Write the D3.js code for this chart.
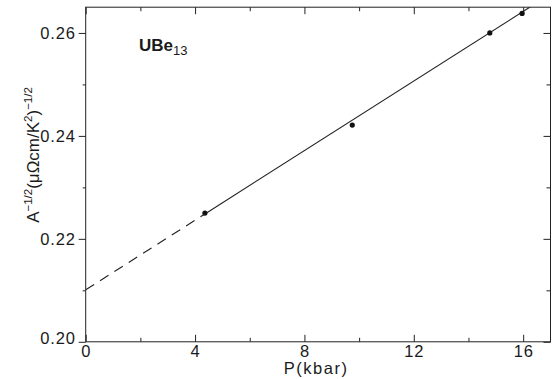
<!DOCTYPE html>
<html><head><meta charset="utf-8">
<script src="https://cdn.jsdelivr.net/npm/d3@7"></script>
<style>
body{margin:0;background:#fff;}
text{font-family:"Liberation Sans",Arial,Helvetica,sans-serif;fill:#1a1a1a;}
</style></head>
<body><svg id="c" width="554" height="379"></svg>
<script>
// data
const pressure = [4.36, 9.75, 14.78, 15.96];          // kbar
const invSqrtA = [0.2250, 0.2421, 0.2600, 0.2638];    // A^-1/2
const fitIntercept = [0.2101];
const fitSlope = [0.00338];
const dashedRange = [0, 4.36];
const solidRange = [4.36, 16.3];
const xTicks = [0, 4, 8, 12, 16];
const xMinor = [2, 6, 10, 14];
const yTicks = [0.20, 0.22, 0.24, 0.26];
const yMinor = [0.21, 0.23, 0.25];

const svg = d3.select("#c");
const L = 85.7, R = 550.5, T = 7.2, B = 341.8;
const x = d3.scaleLinear().domain([0, 17]).range([L, R]);
const y = d3.scaleLinear().domain([0.20, 0.265]).range([B, T]);
const ink = "#222";

// frame
svg.append("rect").attr("x", L).attr("y", T).attr("width", R - L).attr("height", B - T)
  .attr("fill", "none").attr("stroke", ink).attr("stroke-width", 1);

// bottom axis (inward ticks)
const gb = svg.append("g").attr("transform", `translate(0,${B})`)
  .call(d3.axisBottom(x).tickValues(xTicks).tickSize(-7).tickFormat(d3.format("d")).tickPadding(3));
gb.append("g").call(d3.axisBottom(x).tickValues(xMinor).tickSize(-4).tickFormat(""));
// top axis (inward ticks)
const gt = svg.append("g").attr("transform", `translate(0,${T})`)
  .call(d3.axisTop(x).tickValues(xTicks).tickSize(-7).tickFormat(""));
gt.append("g").call(d3.axisTop(x).tickValues(xMinor).tickSize(-4).tickFormat(""));
// left axis (outward ticks)
const gl = svg.append("g").attr("transform", `translate(${L},0)`)
  .call(d3.axisLeft(y).tickValues(yTicks).tickSize(7).tickFormat(d3.format(".2f")).tickPadding(3));
gl.append("g").call(d3.axisLeft(y).tickValues(yMinor).tickSize(3).tickFormat(""));
// right axis (inward)
const gr = svg.append("g").attr("transform", `translate(${R},0)`)
  .call(d3.axisRight(y).tickValues(yTicks).tickSize(-7).tickFormat(""));
gr.append("g").call(d3.axisRight(y).tickValues(yMinor).tickSize(-4).tickFormat(""));

svg.selectAll(".domain").remove();
svg.selectAll(".tick line").attr("stroke", ink);
svg.selectAll(".tick text").attr("font-size", 16.5).attr("letter-spacing", "0.8px")
  .style("font-family", "'Liberation Sans',Arial,sans-serif").attr("fill", "#1a1a1a");
gl.selectAll(".tick text").filter(d => d === 0.20).attr("dy", "0.1em");

// fit line
const fx = v => fitIntercept[0] + fitSlope[0] * v;
const line = d3.line().x(d => x(d)).y(d => y(fx(d)));
svg.append("defs").append("clipPath").attr("id", "clip")
  .append("rect").attr("x", L).attr("y", T).attr("width", R - L).attr("height", B - T);
svg.append("path").datum(dashedRange).attr("d", line).attr("fill", "none")
  .attr("stroke", ink).attr("stroke-width", 1.1).attr("stroke-dasharray", "10,7")
  .attr("clip-path", "url(#clip)");
svg.append("path").datum(solidRange).attr("d", line).attr("fill", "none")
  .attr("stroke", ink).attr("stroke-width", 1.1).attr("clip-path", "url(#clip)");

// points
svg.selectAll("circle.pt").data(pressure).join("circle").attr("class", "pt")
  .attr("cx", d => x(d)).attr("cy", (d, i) => y(invSqrtA[i])).attr("r", 2.6).attr("fill", "#111");

// sample label
const lab = svg.append("text").attr("x", 139).attr("y", 51).attr("font-size", 17).attr("font-weight", "bold");
lab.append("tspan").text("UBe");
lab.append("tspan").attr("font-size", 13).attr("font-weight", "normal").attr("dy", 4).text("13");

// x label
svg.append("text").attr("x", (L + R) / 2 - 2).attr("y", 374).attr("text-anchor", "middle")
  .attr("font-size", 16.5).attr("letter-spacing", "1.5px").text("P(kbar)");

// y label
const yl = svg.append("text").attr("transform", "translate(39,155) rotate(-90)")
  .attr("text-anchor", "middle").attr("font-size", 17);
yl.append("tspan").text("A");
yl.append("tspan").attr("font-size", 11.5).attr("dy", -7).text("−1/2");
yl.append("tspan").attr("dy", 7).text("(μΩcm/K");
yl.append("tspan").attr("font-size", 11.5).attr("dy", -7).text("2");
yl.append("tspan").attr("dy", 7).text(")");
yl.append("tspan").attr("font-size", 11.5).attr("dy", -7).text("−1/2");
</script></body></html>
